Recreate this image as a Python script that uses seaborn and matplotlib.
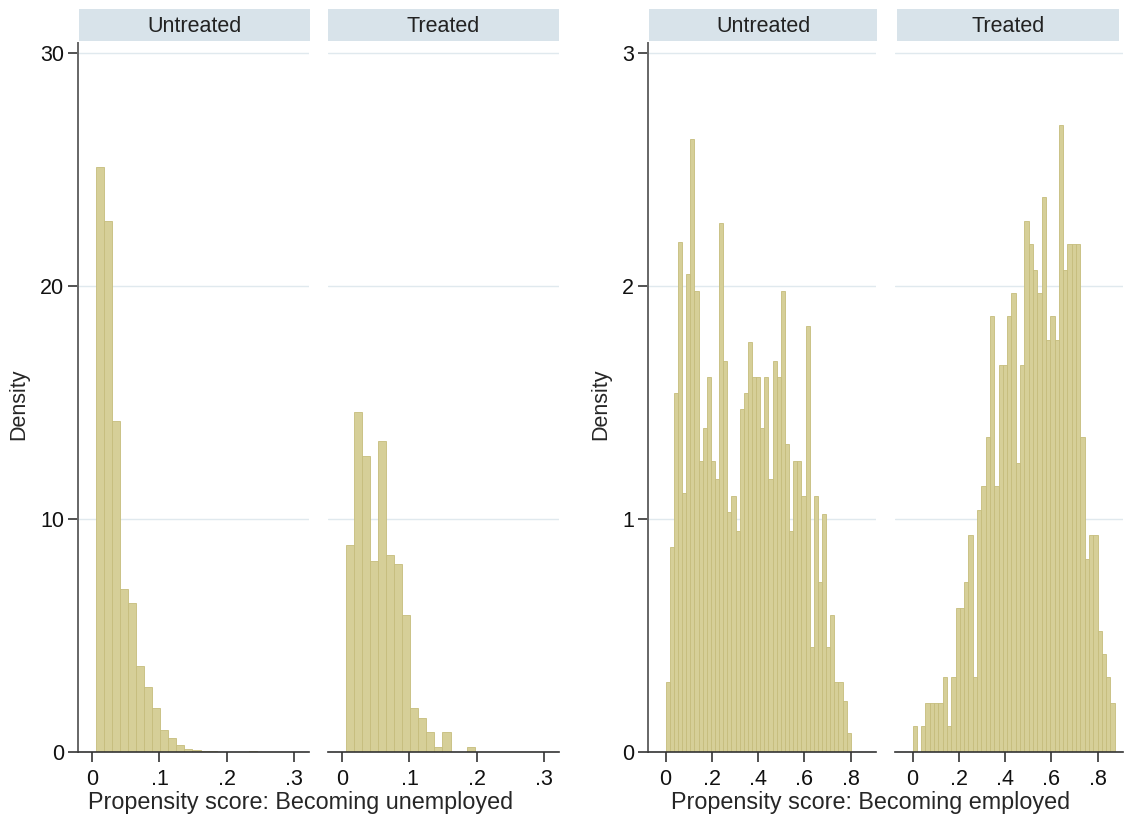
import numpy as np
import pandas as pd
import matplotlib
matplotlib.use('Agg')
import matplotlib.pyplot as plt
import seaborn as sns

# Density per bin
unemp_untreated = [25.1, 22.8, 14.2, 7.0, 6.4, 3.7, 2.8, 1.9, 0.95, 0.6, 0.3, 0.15,
                   0.1, 0.06, 0.04, 0.02, 0.01, 0.01, 0.02, 0.03, 0.01, 0.0, 0.0, 0.01]
unemp_treated = [8.9, 14.6, 12.7, 8.2, 13.35, 8.46, 8.06, 5.87, 1.9, 1.44, 0.85, 0.2,
                 0.85, 0.0, 0.0, 0.2]
unemp_start, unemp_width = 0.005, 0.012

emp_untreated = [0.30, 0.88, 1.54, 2.19, 1.11, 2.05, 2.63, 1.98, 1.25, 1.39, 1.61, 1.25,
                 1.17, 2.27, 1.68, 1.03, 1.10, 0.95, 1.47, 1.54, 1.76, 1.61, 1.61, 1.39,
                 1.61, 1.17, 1.68, 1.61, 1.98, 1.32, 0.95, 1.25, 1.25, 1.10, 1.83, 0.45,
                 1.10, 0.73, 1.02, 0.45, 0.59, 0.30, 0.30, 0.22, 0.08]
emp_treated = [0.11, 0.0, 0.11, 0.21, 0.21, 0.21, 0.21, 0.32, 0.11, 0.32, 0.62, 0.62,
               0.73, 0.93, 0.32, 1.04, 1.14, 1.35, 1.87, 1.14, 1.66, 1.66, 1.87, 1.97,
               1.24, 1.66, 2.28, 2.18, 2.07, 1.97, 2.38, 1.77, 1.87, 1.77, 2.69, 2.07,
               2.18, 2.18, 2.18, 1.35, 0.83, 0.93, 0.93, 0.52, 0.42, 0.32, 0.21]
emp_start = 0.0
emp_untreated_width = 0.0178
emp_treated_width = 0.0186

panel_titles = ['Untreated', 'Treated']
unemp_xticks = [0, 0.1, 0.2, 0.3]
unemp_xticklabels = ['0', '.1', '.2', '.3']
emp_xticks = [0, 0.2, 0.4, 0.6, 0.8]
emp_xticklabels = ['0', '.2', '.4', '.6', '.8']
unemp_yticks = [0, 10, 20, 30]
emp_yticks = [0, 1, 2, 3]

sns.set_style('white')
plt.rcParams['font.family'] = ['Liberation Sans', 'DejaVu Sans']
plt.rcParams['font.size'] = 15.5

W, H = 1125, 817
fig = plt.figure(figsize=(W / 100, H / 100), dpi=100)
fig.patch.set_facecolor('white')

bar_fill = '#d6cf98'
bar_edge = '#c6bd7c'
grid_col = '#e0e9ee'
strip_col = '#d8e3ea'


def panel(left, right):
    return fig.add_axes([left / W, (H - 752) / H, (right - left) / W, (752 - 43) / H])


def strip(left, right, title):
    s = fig.add_axes([left / W, (H - 41) / H, (right - left) / W, 32 / H])
    s.set_facecolor(strip_col)
    s.set_xticks([])
    s.set_yticks([])
    for sp in s.spines.values():
        sp.set_visible(False)
    s.text(0.5, 0.45, title, ha='center', va='center', color='#222222',
           transform=s.transAxes)


def draw_hist(ax, heights, start, width, xlim, ylim, xticks, xticklabels, yticks, show_y):
    n = len(heights)
    edges = [start + width * i for i in range(n + 1)]
    df = pd.DataFrame({'score': [start + width * (i + 0.5) for i in range(n)],
                       'density': heights})
    sns.histplot(data=df, x='score', weights='density', bins=edges, stat='count',
                 color=bar_fill, edgecolor=bar_edge, linewidth=0.6, alpha=1, ax=ax)
    ax.set_xlim(xlim)
    ax.set_ylim(ylim)
    ax.set_xlabel('')
    ax.set_ylabel('')
    ax.set_xticks(xticks)
    ax.set_xticklabels(xticklabels)
    ax.set_yticks(yticks)
    ax.set_yticklabels([str(t) for t in yticks])
    ax.yaxis.grid(True, color=grid_col, linewidth=1.0)
    ax.set_axisbelow(True)
    ax.set_facecolor('white')
    for sp in ['top', 'right']:
        ax.spines[sp].set_visible(False)
    ax.spines['bottom'].set_color('#333333')
    ax.spines['bottom'].set_linewidth(1.2)
    ax.tick_params(axis='x', direction='out', length=7, width=1.1, color='#222222',
                   pad=5, bottom=True, labelcolor='#111111')
    if show_y:
        ax.spines['left'].set_color('#666666')
        ax.spines['left'].set_linewidth(1.4)
        ax.tick_params(axis='y', direction='out', length=7, width=1.1, color='#222222',
                       pad=3, left=True, labelcolor='#111111')
    else:
        ax.spines['left'].set_visible(False)
        ax.tick_params(axis='y', left=False, labelleft=False)


unemp_xlim = (-0.021, 0.322)
emp_xlim = (-0.076, 0.91)
unemp_ylim = (0, 30.43)
emp_ylim = (0, 3.043)

ax1 = panel(78, 309)
draw_hist(ax1, unemp_untreated, unemp_start, unemp_width, unemp_xlim, unemp_ylim,
          unemp_xticks, unemp_xticklabels, unemp_yticks, True)
ax2 = panel(328, 559)
draw_hist(ax2, unemp_treated, unemp_start, unemp_width, unemp_xlim, unemp_ylim,
          unemp_xticks, unemp_xticklabels, unemp_yticks, False)
ax3 = panel(648, 876)
draw_hist(ax3, emp_untreated, emp_start, emp_untreated_width, emp_xlim, emp_ylim,
          emp_xticks, emp_xticklabels, emp_yticks, True)
ax4 = panel(895, 1123)
draw_hist(ax4, emp_treated, emp_start, emp_treated_width, emp_xlim, emp_ylim,
          emp_xticks, emp_xticklabels, emp_yticks, False)

strip(79, 310, panel_titles[0])
strip(328, 559, panel_titles[1])
strip(649, 877, panel_titles[0])
strip(897, 1119, panel_titles[1])

# axis titles shared by each pair of panels
fig.text(19 / W, 1 - 404 / H, 'Density', rotation=90, ha='center', va='center')
fig.text(601 / W, 1 - 404 / H, 'Density', rotation=90, ha='center', va='center')
fig.text(301 / W, 1 - 803 / H, 'Propensity score: Becoming unemployed',
         ha='center', va='center', fontsize=16.8)
fig.text(871 / W, 1 - 803 / H, 'Propensity score: Becoming employed',
         ha='center', va='center', fontsize=16.8)

fig.savefig('out.png', dpi=100, facecolor='white')
